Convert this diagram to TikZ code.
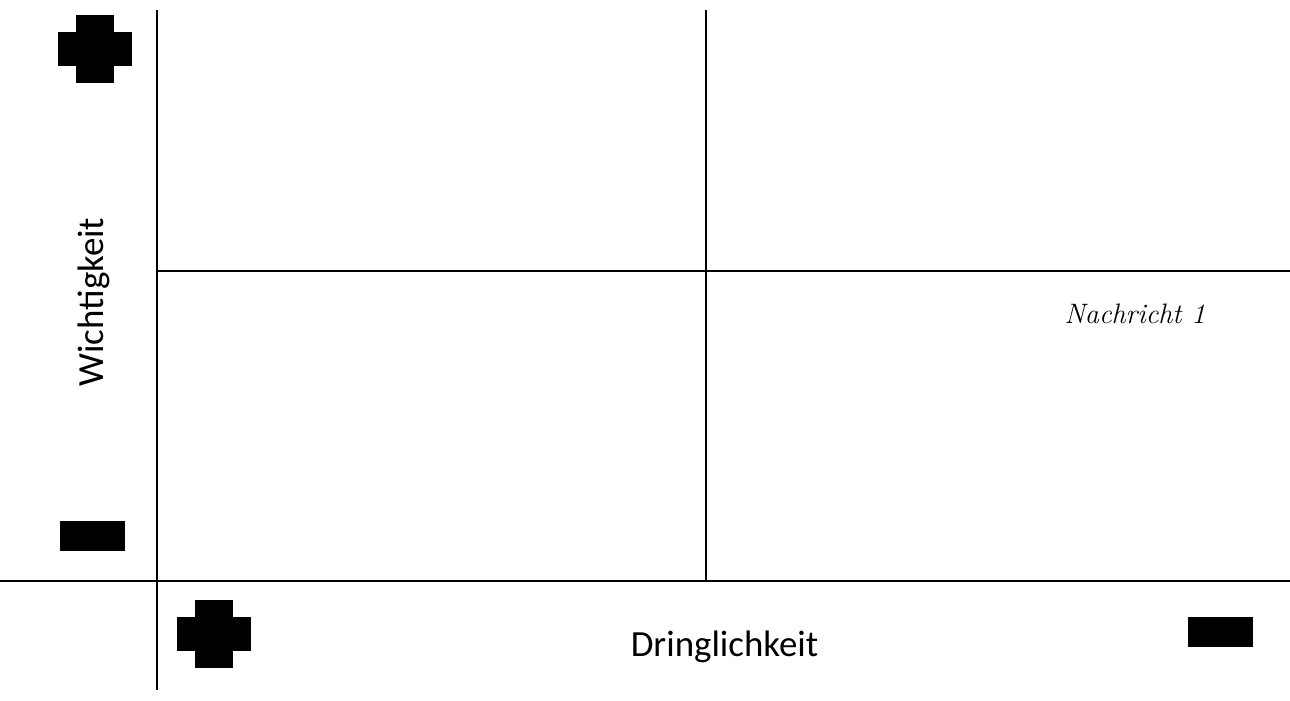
\documentclass[tikz,border=0pt]{standalone}
\usepackage{fontspec}
\setmainfont{Carlito}
\newfontfamily\notefont{Latin Modern Roman}
\begin{document}
\begin{tikzpicture}[
    x=0.02cm, y=-0.02cm,
    grid line/.style={line width=1.3pt, black},
    axis label/.style={font=\fontsize{21}{24}\selectfont, inner sep=0pt, anchor=base},
    note label/.style={font=\notefont\itshape\fontsize{16}{18}\selectfont, inner sep=0pt, anchor=base},
    sign/.style={fill=black, draw=none},
]
\useasboundingbox (0,0) rectangle (1290,700);

% ---- layout parameters ----
\def\xAx{157}      % x of the importance axis
\def\yAx{581}      % y of the urgency axis
\def\xMid{706}     % middle vertical divider
\def\yMid{271}     % middle horizontal divider

% ---- grid ----
\coordinate (axTop) at (\xAx, 10);
\coordinate (axBot) at (\xAx, 690);
\coordinate (axL)   at (0, \yAx);
\coordinate (axR)   at (1290, \yAx);
\coordinate (midTop) at (\xMid, 10);
\coordinate (midBot) at (\xMid, \yAx);
\coordinate (midL)   at (\xAx, \yMid);
\coordinate (midR)   at (1290, \yMid);

\draw[grid line] (axTop) -- (axBot);
\draw[grid line] (axL) -- (axR);
\draw[grid line] (midTop) -- (midBot);
\draw[grid line] (midL) -- (midR);

% ---- plus signs (blocky) ----
\foreach \cx/\cy in {95/49, 214/634} {
    \fill[sign] (\cx-37, \cy-17) rectangle (\cx+37, \cy+17);
    \fill[sign] (\cx-19, \cy-34) rectangle (\cx+19, \cy+34);
}

% ---- minus signs ----
\foreach \cx/\cy in {92.5/536, 1220.5/632} {
    \fill[sign] (\cx-32.5, \cy-15) rectangle (\cx+32.5, \cy+15);
}

% ---- labels ----
\node[axis label, rotate=90] (wichtig) at (103, 302) {Wichtigkeit};
\node[axis label] (dringlich) at (724.5, 656) {Dringlichkeit};
\node[note label] (msg1) at (1135, 323) {Nachricht 1};

\end{tikzpicture}
\end{document}
